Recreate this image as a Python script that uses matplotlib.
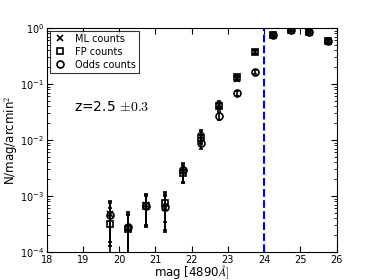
import numpy as np
import matplotlib
matplotlib.use("Agg")
import matplotlib.pyplot as plt
from matplotlib.lines import Line2D

plt.rcParams['mathtext.fontset'] = 'cm'
plt.rcParams['font.family'] = 'DejaVu Sans'

mag = [19.75, 20.25, 20.75, 21.25, 21.75, 22.25, 22.75, 23.25, 23.75, 24.25, 24.75, 25.25, 25.75]

ml_counts = [4.8e-4, 2.7e-4, 6.9e-4, 6.1e-4, 2.8e-3, 1.2e-2, 4.3e-2, 0.125, 0.37, 0.75, 0.93, 0.86, 0.59]
ml_lo = [1.3e-4, 8e-5, 2.8e-4, 2.3e-4, 1.7e-3, 9e-3, 3.7e-2, 0.112, 0.34, 0.71, 0.88, 0.81, 0.55]
ml_hi = [8e-4, 5.1e-4, 1.1e-3, 1.2e-3, 3.9e-3, 1.5e-2, 4.9e-2, 0.138, 0.40, 0.79, 0.98, 0.91, 0.63]

fp_counts = [3.2e-4, 2.6e-4, 6.6e-4, 7.4e-4, 2.6e-3, 1.1e-2, 4.0e-2, 0.133, 0.37, 0.74, 0.94, 0.85, 0.59]
fp_lo = [7e-5, 7e-5, 3e-4, 3.4e-4, 1.7e-3, 8.5e-3, 3.5e-2, 0.12, 0.34, 0.70, 0.89, 0.80, 0.55]
fp_hi = [6e-4, 4.6e-4, 1.0e-3, 1.1e-3, 3.5e-3, 1.4e-2, 4.6e-2, 0.147, 0.40, 0.78, 0.99, 0.90, 0.63]

odds_counts = [4.6e-4, 2.8e-4, 6.7e-4, 6.3e-4, 2.9e-3, 9.0e-3, 2.7e-2, 0.069, 0.163, 0.74, 0.93, 0.85, 0.58]
odds_lo = [1.5e-4, 9e-5, 2.9e-4, 2.5e-4, 1.8e-3, 7e-3, 2.3e-2, 0.062, 0.15, 0.70, 0.88, 0.80, 0.54]
odds_hi = [7.5e-4, 4.8e-4, 1.05e-3, 1.0e-3, 3.8e-3, 1.1e-2, 3.1e-2, 0.076, 0.176, 0.78, 0.98, 0.90, 0.62]

mag_limit = 24.0

fig = plt.figure(figsize=(3.74, 2.8), dpi=100)
ax = fig.add_axes([0.125, 0.1, 0.775, 0.8])


def draw(vals, lo, hi, marker):
    vals = np.array(vals)
    err = [vals - np.array(lo), np.array(hi) - vals]
    ax.errorbar(mag, vals, yerr=err, fmt=marker, color='k', mfc='none', mec='k',
                mew=1.2, ms=5, elinewidth=1.2, capsize=1.5, capthick=1.5)


draw(ml_counts, ml_lo, ml_hi, 'x')
draw(fp_counts, fp_lo, fp_hi, 's')
draw(odds_counts, odds_lo, odds_hi, 'o')

ax.axvline(mag_limit, color='b', ls='--', lw=1.5)

ax.set_yscale('log')
ax.set_xlim(18, 26)
ax.set_ylim(1e-4, 1)
ax.tick_params(which='both', direction='in', top=True, right=True, labelsize=7, pad=2)
ax.tick_params(which='major', length=4)
ax.tick_params(which='minor', length=2)
ax.set_xlabel(r'mag [4890$\AA]$', fontsize=8.5, labelpad=-1)
ax.set_ylabel(r'N/mag/arcmin$^2$', fontsize=8.5, labelpad=0)

ax.text(18.75, 0.033, r'z=2.5 $\pm0.3$', fontsize=10)

handles = [Line2D([], [], ls='none', marker=m, color='k', mfc='none', mew=1.2, ms=5)
           for m in ['x', 's', 'o']]
leg = ax.legend(handles, ['ML counts', 'FP counts', 'Odds counts'],
                loc='upper left', fontsize=7, numpoints=1, fancybox=False,
                handlelength=1.5, borderpad=0.3, labelspacing=0.3,
                borderaxespad=0.3)
leg.get_frame().set_edgecolor('k')
leg.get_frame().set_linewidth(0.8)

fig.savefig('out.png', dpi=100)
